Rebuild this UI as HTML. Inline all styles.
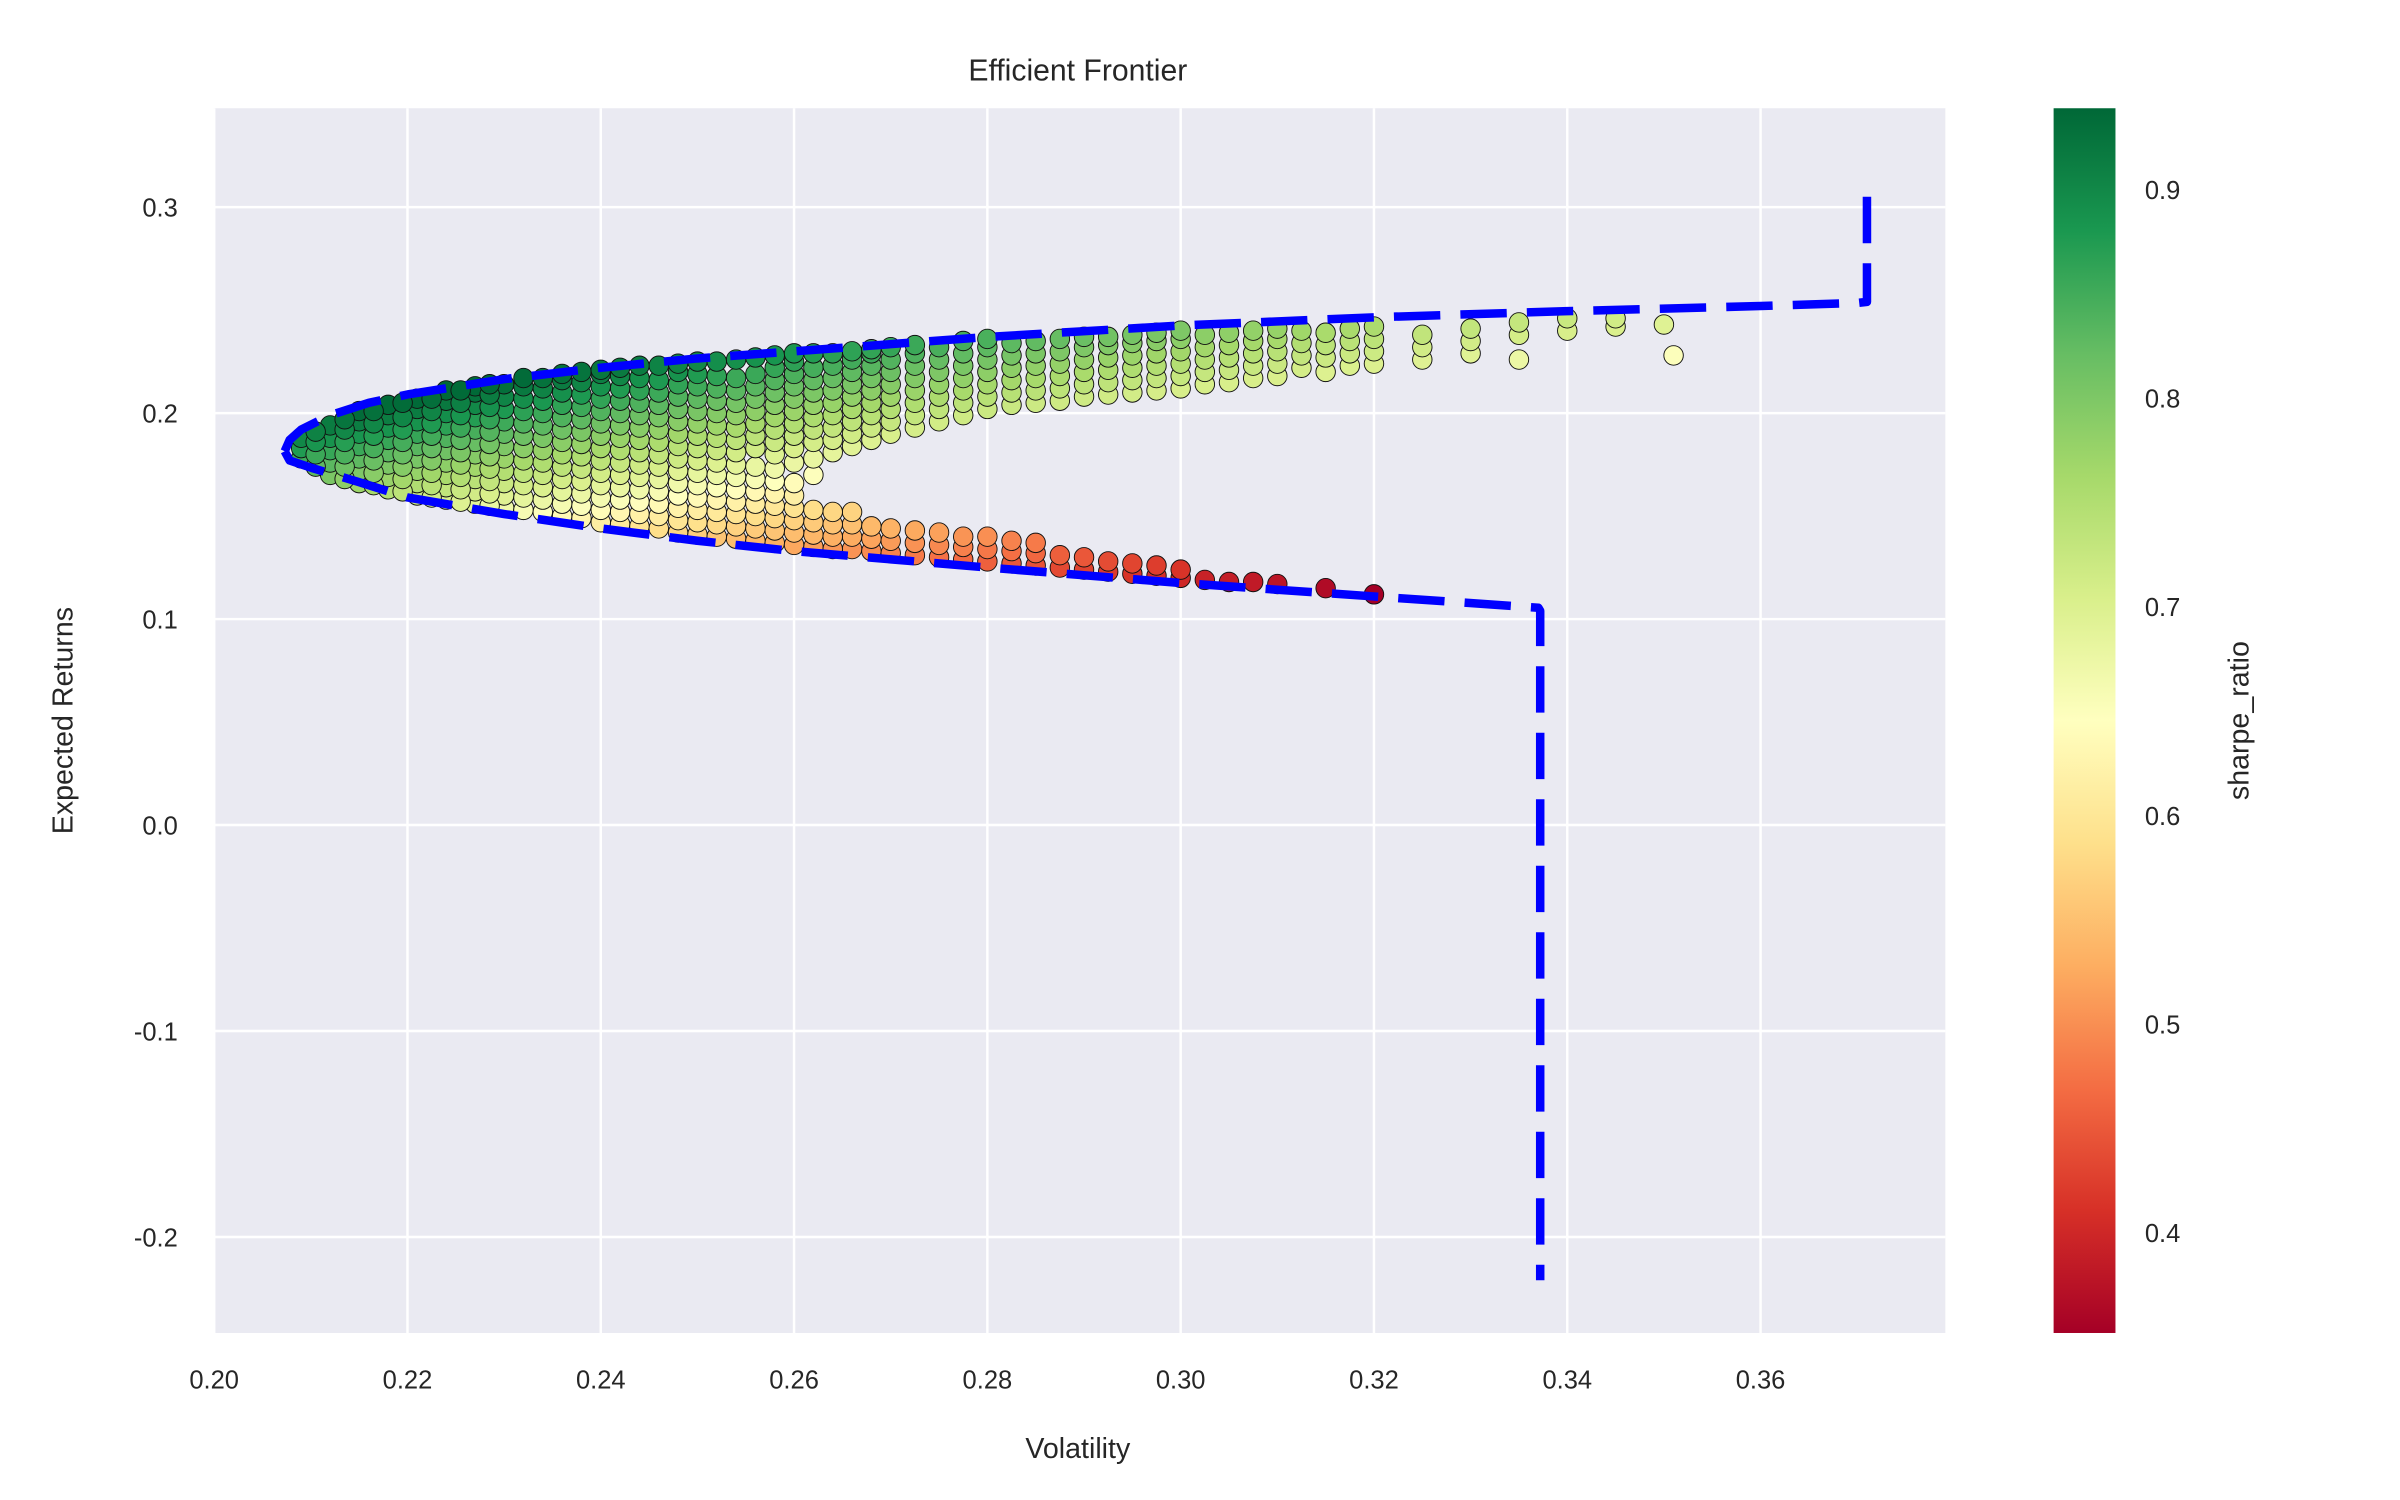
<!DOCTYPE html>
<html><head><meta charset="utf-8"><title>Efficient Frontier</title>
<style>html,body{margin:0;padding:0;background:#fff;}svg{display:block;font-family:"Liberation Sans","DejaVu Sans",sans-serif;}</style>
</head><body>
<svg id="chart" width="2400" height="1500" viewBox="0 0 1552 970" preserveAspectRatio="none" xmlns="http://www.w3.org/2000/svg">
<defs>
<linearGradient id="rdylgn" x1="0" y1="1" x2="0" y2="0">
<stop offset="0" stop-color="#a50026"/><stop offset="0.1" stop-color="#d73027"/><stop offset="0.2" stop-color="#f46d43"/><stop offset="0.3" stop-color="#fdae61"/><stop offset="0.4" stop-color="#fee08b"/><stop offset="0.5" stop-color="#ffffbf"/><stop offset="0.6" stop-color="#d9ef8b"/><stop offset="0.7" stop-color="#a6d96a"/><stop offset="0.8" stop-color="#66bd63"/><stop offset="0.9" stop-color="#1a9850"/><stop offset="1" stop-color="#006837"/>
</linearGradient>
<clipPath id="plotclip"><rect x="138" y="70" width="1120" height="792"/></clipPath>
</defs>
<rect x="138" y="70" width="1120" height="792" fill="#eaeaf2"/>
<g id="grid"></g>
<g id="points" clip-path="url(#plotclip)"></g>
<g id="frontier" clip-path="url(#plotclip)"></g>
<g id="ticks"></g>
<text x="697" y="52" text-anchor="middle" font-size="19.5" fill="#262626">Efficient Frontier</text>
<text x="697" y="943" text-anchor="middle" font-size="18.5" fill="#262626">Volatility</text>
<text transform="translate(47,466) rotate(-90)" text-anchor="middle" font-size="18.5" fill="#262626">Expected Returns</text>
<rect x="1328" y="70" width="40" height="792" fill="url(#rdylgn)"/>
<g id="cbticks"></g>
<text transform="translate(1454,466) rotate(-90)" text-anchor="middle" font-size="18.5" fill="#262626">sharpe_ratio</text>
</svg>
<script>
const xTicks = [0.20,0.22,0.24,0.26,0.28,0.30,0.32,0.34,0.36];
const xTickLabels = ["0.20","0.22","0.24","0.26","0.28","0.30","0.32","0.34","0.36"];
const yTicks = [0.3,0.2,0.1,0.0,-0.1,-0.2];
const yTickLabels = ["0.3","0.2","0.1","0.0","-0.1","-0.2"];
const cbTicks = [0.9,0.8,0.7,0.6,0.5,0.4];
const cbTickLabels = ["0.9","0.8","0.7","0.6","0.5","0.4"];
const upperFrontier = [[0.2073,0.1815],[0.2078,0.187],[0.209,0.192],[0.212,0.199],[0.216,0.205],[0.22,0.209],[0.23,0.2165],[0.24,0.222],[0.25,0.2265],[0.26,0.230],[0.28,0.237],[0.30,0.2425],[0.32,0.2465],[0.34,0.2495],[0.36,0.252],[0.37,0.2535],[0.371,0.254],[0.371,0.313]];
const lowerFrontier = [[0.2073,0.1815],[0.2078,0.177],[0.21,0.1735],[0.215,0.1665],[0.22,0.159],[0.23,0.151],[0.24,0.144],[0.25,0.138],[0.26,0.133],[0.28,0.125],[0.30,0.1175],[0.32,0.111],[0.337,0.1055],[0.3372,0.104],[0.3372,-0.221]];
const portfolioVols = [0.209,0.212,0.215,0.218,0.221,0.224,0.227,0.230,0.234,0.238,0.242,0.246,0.250,0.254,0.258,0.262,0.266,0.270,0.275,0.280,0.285,0.290,0.295,0.300,0.305,0.310,0.315,0.320,0.325,0.330,0.335,0.340,0.345,0.350,0.351];
const portfolioRets = [
[0.178,0.183,0.188],
[0.170,0.176,0.182,0.188,0.194],
[0.166,0.172,0.178,0.184,0.190,0.196,0.201],
[0.163,0.169,0.175,0.181,0.187,0.193,0.199,0.204],
[0.160,0.166,0.172,0.178,0.184,0.190,0.196,0.202,0.207],
[0.158,0.164,0.170,0.176,0.182,0.188,0.194,0.200,0.206,0.211],
[0.156,0.162,0.168,0.174,0.180,0.186,0.192,0.198,0.204,0.210,0.213],
[0.154,0.160,0.166,0.172,0.178,0.184,0.190,0.196,0.202,0.208,0.214],
[0.152,0.158,0.164,0.170,0.176,0.182,0.188,0.194,0.200,0.206,0.212,0.217],
[0.149,0.155,0.161,0.167,0.173,0.179,0.185,0.191,0.197,0.203,0.209,0.215,0.220],
[0.146,0.152,0.158,0.164,0.170,0.176,0.182,0.188,0.194,0.200,0.206,0.212,0.218,0.222],
[0.144,0.150,0.156,0.162,0.168,0.174,0.180,0.186,0.192,0.198,0.204,0.210,0.216,0.223],
[0.141,0.147,0.153,0.159,0.165,0.171,0.177,0.183,0.189,0.195,0.201,0.207,0.213,0.219,0.225],
[0.139,0.145,0.151,0.157,0.163,0.169,0.175,0.181,0.187,0.193,0.199,0.205,0.211,0.217,0.226],
[0.137,0.143,0.149,0.155,0.161,0.167,0.173,0.180,0.186,0.192,0.198,0.204,0.210,0.216,0.222,0.228],
[0.135,0.141,0.147,0.153,0.170,0.178,0.186,0.192,0.198,0.204,0.210,0.216,0.222,0.229],
[0.134,0.140,0.146,0.152,0.184,0.190,0.196,0.202,0.208,0.214,0.220,0.226,0.230],
[0.132,0.138,0.144,0.190,0.196,0.202,0.208,0.214,0.220,0.226,0.232],
[0.130,0.136,0.142,0.196,0.202,0.208,0.214,0.220,0.226,0.232],
[0.128,0.134,0.140,0.202,0.208,0.214,0.220,0.226,0.232,0.236],
[0.126,0.132,0.137,0.205,0.211,0.217,0.223,0.229,0.235],
[0.124,0.130,0.208,0.214,0.220,0.226,0.232,0.237],
[0.122,0.127,0.210,0.216,0.222,0.228,0.234,0.238],
[0.120,0.124,0.212,0.218,0.224,0.230,0.236,0.240],
[0.118,0.215,0.221,0.227,0.233,0.239],
[0.117,0.218,0.224,0.230,0.236,0.241],
[0.115,0.220,0.227,0.233,0.239],
[0.112,0.224,0.230,0.236,0.242],
[0.226,0.232,0.238],
[0.229,0.235,0.241],
[0.226,0.238,0.244],
[0.240,0.246],
[0.242,0.246],
[0.243],
[0.228]
];
const portfolioVols2 = [0.2105,0.2135,0.2165,0.2195,0.2225,0.2255,0.2285,0.232,0.236,0.240,0.244,0.248,0.252,0.256,0.260,0.264,0.268,0.2725,0.2775,0.2825,0.2875,0.2925,0.2975,0.3025,0.3075,0.3125,0.3175];
const portfolioRets2 = [
[0.174,0.180,0.186,0.191],
[0.168,0.174,0.180,0.186,0.192,0.197],
[0.165,0.171,0.177,0.183,0.189,0.195,0.201],
[0.162,0.168,0.174,0.180,0.186,0.192,0.198,0.205],
[0.159,0.165,0.171,0.177,0.183,0.189,0.195,0.201,0.207],
[0.157,0.163,0.169,0.175,0.181,0.187,0.193,0.199,0.205,0.211],
[0.155,0.161,0.167,0.173,0.179,0.185,0.191,0.197,0.203,0.209,0.214],
[0.153,0.159,0.165,0.171,0.177,0.183,0.189,0.195,0.201,0.207,0.213,0.217],
[0.150,0.156,0.162,0.168,0.174,0.180,0.186,0.192,0.198,0.204,0.210,0.216,0.219],
[0.147,0.153,0.159,0.165,0.171,0.177,0.183,0.189,0.195,0.201,0.207,0.213,0.219,0.221],
[0.145,0.151,0.157,0.163,0.169,0.175,0.181,0.187,0.193,0.199,0.205,0.211,0.217,0.223],
[0.142,0.148,0.154,0.160,0.166,0.172,0.178,0.184,0.190,0.196,0.202,0.208,0.214,0.220,0.224],
[0.140,0.146,0.152,0.158,0.164,0.170,0.176,0.182,0.188,0.194,0.200,0.206,0.212,0.218,0.225],
[0.138,0.144,0.150,0.156,0.162,0.168,0.174,0.183,0.189,0.195,0.201,0.207,0.213,0.219,0.227],
[0.136,0.142,0.148,0.154,0.160,0.166,0.176,0.183,0.189,0.195,0.201,0.207,0.213,0.219,0.225,0.229],
[0.134,0.140,0.146,0.152,0.181,0.187,0.193,0.199,0.205,0.211,0.217,0.223,0.229],
[0.133,0.139,0.145,0.187,0.193,0.199,0.205,0.211,0.217,0.223,0.229,0.231],
[0.131,0.137,0.143,0.193,0.199,0.205,0.211,0.217,0.223,0.229,0.233],
[0.129,0.135,0.140,0.199,0.205,0.211,0.217,0.223,0.229,0.235],
[0.127,0.133,0.138,0.204,0.210,0.216,0.222,0.228,0.234],
[0.125,0.131,0.206,0.212,0.218,0.224,0.230,0.236],
[0.123,0.128,0.209,0.215,0.221,0.227,0.233,0.237],
[0.121,0.126,0.211,0.217,0.223,0.229,0.235,0.239],
[0.119,0.214,0.220,0.226,0.232,0.238],
[0.118,0.217,0.223,0.229,0.235,0.240],
[0.222,0.228,0.234,0.240],
[0.223,0.229,0.235,0.241]
];
const NS="http://www.w3.org/2000/svg";
const X0=138,X1=1258,Y0=862,Y1=70;
const xMin=0.19992,xMax=0.37912,yMin=-0.2466,yMax=0.348,cMin=0.352,cMax=0.939;
function sx(v){return X0+(v-xMin)/(xMax-xMin)*(X1-X0);}
function sy(v){return Y0-(v-yMin)/(yMax-yMin)*(Y0-Y1);}
function cy(v){return Y0-(v-cMin)/(cMax-cMin)*(Y0-Y1);}
const stops=[[0,165,0,38],[0.1,215,48,39],[0.2,244,109,67],[0.3,253,174,97],[0.4,254,224,139],[0.5,255,255,191],[0.6,217,239,139],[0.7,166,217,106],[0.8,102,189,99],[0.9,26,152,80],[1,0,104,55]];
function cmap(s){let t=(s-cMin)/(cMax-cMin);t=Math.max(0,Math.min(1,t));
for(let i=0;i<stops.length-1;i++){const a=stops[i],b=stops[i+1];if(t<=b[0]){const f=(t-a[0])/(b[0]-a[0]);return `rgb(${Math.round(a[1]+f*(b[1]-a[1]))},${Math.round(a[2]+f*(b[2]-a[2]))},${Math.round(a[3]+f*(b[3]-a[3]))})`;}}return "rgb(0,104,55)";}
function mk(tag,attrs,parent){const e=document.createElementNS(NS,tag);for(const k in attrs)e.setAttribute(k,attrs[k]);parent.appendChild(e);return e;}
const grid=document.getElementById('grid'),ticks=document.getElementById('ticks');
xTicks.forEach((v,i)=>{
 const l=mk('line',{x1:sx(v),x2:sx(v),y1:Y1,y2:Y0,stroke:'#fff','stroke-width':1.6},grid);
 
 
 const t=mk('text',{x:sx(v),y:Y0+36,'text-anchor':'middle','font-size':16.5,fill:'#262626'},ticks);
 t.textContent=xTickLabels[i];
 
 
});
yTicks.forEach((v,i)=>{
 const l=mk('line',{x1:X0,x2:X1,y1:sy(v),y2:sy(v),stroke:'#fff','stroke-width':1.6},grid);
 
 
 const t=mk('text',{x:X0-23,y:sy(v)+6,'text-anchor':'end','font-size':16.5,fill:'#262626'},ticks);
 t.textContent=yTickLabels[i];
 
 
});
const cbt=document.getElementById('cbticks');
cbTicks.forEach((v,i)=>{
 const t=mk('text',{x:1387,y:cy(v)+6,'font-size':16.5,fill:'#262626'},cbt);
 t.textContent=cbTickLabels[i];
 
 
});
const pts=document.getElementById('points');
function drawSet(vols,rets){
 vols.forEach((v,i)=>{
  rets[i].forEach(r=>{
   const c=mk('circle',{cx:sx(v),cy:sy(r),r:6.3,fill:cmap(r/v),stroke:'#111','stroke-width':0.6},pts);
   
   
  });
 });
}
drawSet(portfolioVols,portfolioRets);
drawSet(portfolioVols2,portfolioRets2);
const fr=document.getElementById('frontier');
[upperFrontier,lowerFrontier].forEach((arr,k)=>{
 const d=arr.map((p,i)=>(i?'L':'M')+sx(p[0]).toFixed(1)+' '+sy(p[1]).toFixed(1)).join(' ');
 const p=mk('path',{d:d,fill:'none',stroke:'#0000ff','stroke-width':5.5,'stroke-dasharray':'30 13','stroke-linejoin':'round'},fr);
 
 
});
</script>
</body></html>
